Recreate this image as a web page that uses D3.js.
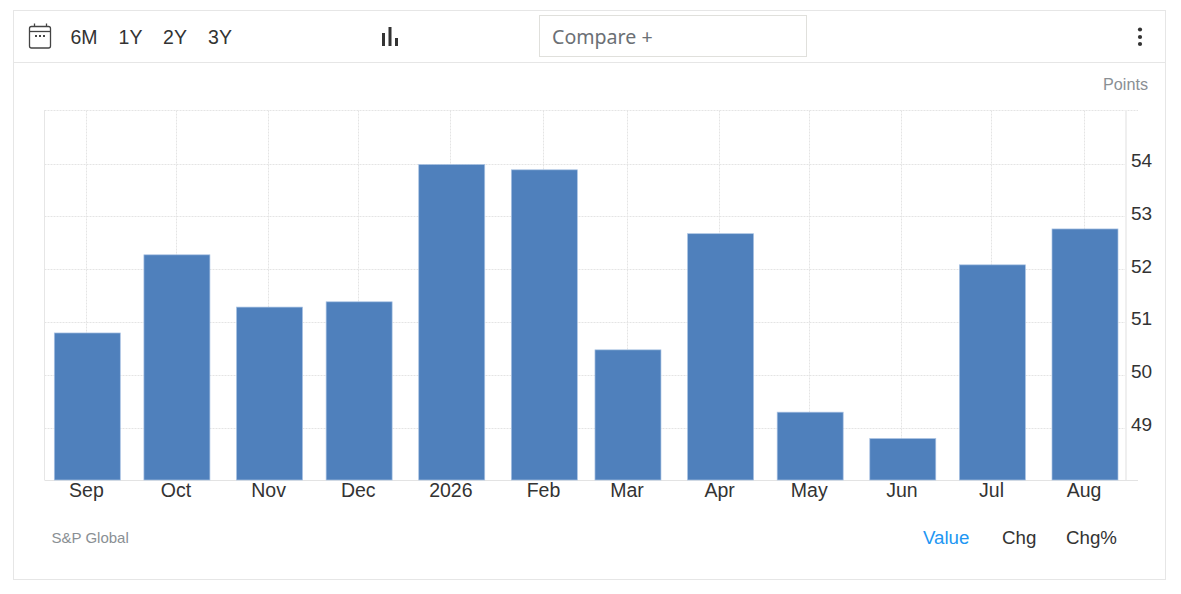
<!DOCTYPE html>
<html><head><meta charset="utf-8">
<script src="https://cdnjs.cloudflare.com/ajax/libs/d3/7.8.5/d3.min.js"></script>
<style>
html,body{margin:0;padding:0;background:#fff;overflow:hidden}
svg{display:block}
text{font-family:"Liberation Sans",Arial,sans-serif}
.grid{stroke:#e4e4e4;stroke-dasharray:2 1;stroke-width:1;fill:none}
</style></head><body>
<svg id="c" width="1181" height="594"></svg>
<script>
const months = ["2025-09-01","2025-10-01","2025-11-01","2025-12-01","2026-01-01","2026-02-01","2026-03-01","2026-04-01","2026-05-01","2026-06-01","2026-07-01","2026-08-01"];
const tickLabels = ["Sep","Oct","Nov","Dec","2026","Feb","Mar","Apr","May","Jun","Jul","Aug"];
const values = [50.8,52.28,51.29,51.39,53.99,53.89,50.48,52.68,49.3,48.8,52.09,52.77];
const yTicks = [49,50,51,52,53,54];
const ranges = ["6M","1Y","2Y","3Y"];
const rangeX = [84,130.5,175,220];
const modes = ["Value","Chg","Chg%"];

const svg = d3.select("#c");
const dates = months.map(d => new Date(d + "T00:00:00Z"));
const x = d3.scaleUtc().domain([dates[0], dates[dates.length-1]]).range([85.9,1083.6]);
const y = d3.scaleLinear().domain([48,55]).range([480.8,111.2]);
const left = 44.5, right = 1126, barW = 66, plotTop = 110.5, plotBottom = 480;

// frame
svg.append("rect").attr("x",13.5).attr("y",10.5).attr("width",1152).attr("height",569).attr("fill","#fff").attr("stroke","#e6e6e6");
svg.append("line").attr("x1",14).attr("x2",1165).attr("y1",62.5).attr("y2",62.5).attr("stroke","#e6e6e6");

// toolbar: calendar icon
const cal = svg.append("g").attr("fill","none").attr("stroke","#444").attr("stroke-width",1.3);
cal.append("rect").attr("x",29.5).attr("y",26.5).attr("width",21).attr("height",21.5).attr("rx",2);
cal.append("line").attr("x1",29.5).attr("x2",50.5).attr("y1",31.5).attr("y2",31.5);
cal.append("line").attr("x1",34.5).attr("x2",34.5).attr("y1",23.5).attr("y2",27);
cal.append("line").attr("x1",46.5).attr("x2",46.5).attr("y1",23.5).attr("y2",27);
[36,40,44].forEach(cx => svg.append("rect").attr("x",cx-1).attr("y",35).attr("width",2).attr("height",2).attr("fill","#444"));

svg.selectAll(".range").data(ranges).join("text").attr("class","range")
  .attr("x",(d,i)=>rangeX[i]).attr("y",44).attr("text-anchor","middle")
  .attr("font-size",19.5).attr("fill","#333").text(d=>d);

// chart-type icon
[[382,33],[388.5,27],[395,38]].forEach(([bx,by]) =>
  svg.append("rect").attr("x",bx).attr("y",by).attr("width",3).attr("height",46-by).attr("fill","#333"));

// compare box
svg.append("rect").attr("x",539.5).attr("y",15.5).attr("width",267).attr("height",41).attr("fill","#fff").attr("stroke","#e0e0dc");
svg.append("text").attr("x",552).attr("y",44).attr("font-size",19.6).attr("fill","#6b7075")
  .style("font-family",'"Noto Sans",sans-serif').text("Compare +");

// kebab
[29.5,37,44].forEach(cy => svg.append("circle").attr("cx",1140).attr("cy",cy).attr("r",2.1).attr("fill","#333"));

// units
svg.append("text").attr("x",1148).attr("y",90).attr("text-anchor","end").attr("font-size",16.2).attr("fill","#8a8f94").text("Points");

// grid
svg.selectAll(".hg").data(yTicks).join("line").attr("class","hg grid")
  .attr("x1",left).attr("x2",right)
  .attr("y1",d=>Math.floor(y(d))+.5).attr("y2",d=>Math.floor(y(d))+.5);
svg.append("line").attr("class","grid").attr("x1",left).attr("x2",1138).attr("y1",plotTop).attr("y2",plotTop);
svg.selectAll(".vg").data(dates).join("line").attr("class","vg grid")
  .attr("x1",d=>Math.round(x(d))+.5).attr("x2",d=>Math.round(x(d))+.5)
  .attr("y1",plotTop).attr("y2",plotBottom);

// axis lines
svg.append("line").attr("x1",left).attr("x2",left).attr("y1",110).attr("y2",480).attr("stroke","#e6e6e6");
svg.append("line").attr("x1",right).attr("x2",right).attr("y1",110).attr("y2",480).attr("stroke","#efefef").attr("stroke-width",2);
svg.append("line").attr("x1",left).attr("x2",1138).attr("y1",480.5).attr("y2",480.5).attr("stroke","#e3e3e3");

// bars
svg.selectAll(".bar").data(values).join("rect").attr("class","bar")
  .attr("x",(d,i)=>x(dates[i])+1.4-barW/2)
  .attr("y",d=>y(d)).attr("width",barW).attr("height",d=>plotBottom-y(d))
  .attr("fill","#4f80bc").attr("stroke","#a9c2e3").attr("stroke-width",.7);

// x axis
const xAxis = d3.axisBottom(x).tickValues(dates).tickSize(0).tickPadding(0)
  .tickFormat((d,i)=>tickLabels[i]);
const gx = svg.append("g").attr("transform","translate(0,480)").call(xAxis);
gx.select(".domain").remove();
gx.selectAll("text").attr("y",3).attr("dy","0.71em").attr("font-size",19.5).attr("fill","#333")
  .style("font-family",'"Liberation Sans",Arial,sans-serif');

// y axis
const yAxis = d3.axisRight(y).tickValues(yTicks).tickSize(0).tickPadding(0).tickFormat(d3.format("d"));
const gy = svg.append("g").attr("transform","translate(1131,-3.5)").call(yAxis);
gy.select(".domain").remove();
gy.selectAll("text").attr("font-size",19).attr("fill","#333")
  .style("font-family",'"Liberation Sans",Arial,sans-serif');

// footer
svg.append("text").attr("x",51.5).attr("y",543).attr("font-size",15).attr("fill","#8a8f94").text("S&P Global");
const modeX = [923,1002,1066];
svg.selectAll(".mode").data(modes).join("text").attr("class","mode")
  .attr("x",(d,i)=>modeX[i]).attr("y",544).attr("font-size",18.7)
  .attr("fill",(d,i)=>i===0?"#2196f3":"#333").text(d=>d);
</script></body></html>
